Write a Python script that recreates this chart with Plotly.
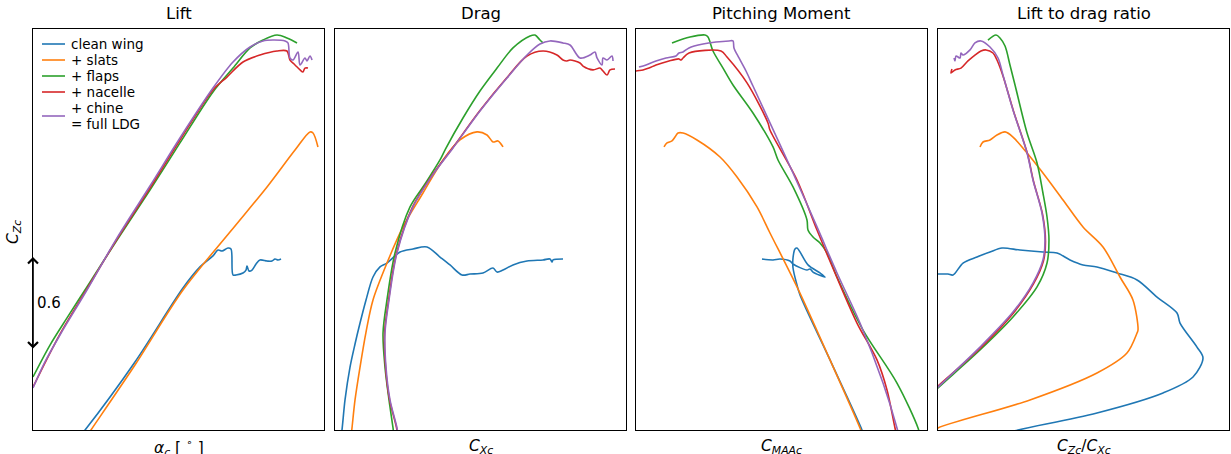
import plotly.graph_objects as go

SERIES = ["clean wing", "+ slats", "+ flaps", "+ nacelle", "+ chine<br>= full LDG"]
COLORS = ["#1f77b4", "#ff7f0e", "#2ca02c", "#d62728", "#9467bd"]
TITLES = ["Lift", "Drag", "Pitching Moment", "Lift to drag ratio"]

# ---------------- Lift: alpha_c [deg] vs C_Zc ----------------
lift_a_clean = [-1.80, -1.35, 3.11, 7.40, 8.92, 10.08, 10.53, 10.89, 11.42, 11.69, 11.87, 12.14, 12.76,
                13.03, 13.12, 13.30, 13.57, 13.93, 14.28, 14.91, 15.35, 15.62, 15.89, 16.16]
lift_cz_clean = [-0.039, 0.0, 0.439, 0.916, 1.052, 1.123, 1.161, 1.155, 1.174, 1.168, 1.000, 1.000, 1.013,
                 1.032, 1.058, 1.026, 1.032, 1.071, 1.097, 1.090, 1.090, 1.103, 1.097, 1.103]
lift_a_slats = [-1.18, -0.82, 3.11, 7.40, 11.60, 14.91, 17.41, 18.75, 19.02, 19.46]
lift_cz_slats = [-0.039, 0.0, 0.419, 0.903, 1.277, 1.568, 1.806, 1.923, 1.916, 1.826]
lift_a_flaps = [-6.0, -4.48, -2.96, -1.18, 1.51, 4.45, 7.13, 10.08, 11.87, 13.39, 14.55, 15.80, 16.69, 17.59]
lift_cz_flaps = [0.342, 0.548, 0.723, 0.923, 1.226, 1.548, 1.852, 2.181, 2.335, 2.465, 2.516, 2.548, 2.529, 2.497]
lift_a_nacelle = [-6.0, -3.59, -1.18, 1.51, 4.45, 7.13, 10.08, 11.33, 12.76, 14.28, 15.80, 16.69, 16.96,
                  17.41, 17.86, 18.12, 18.30, 18.57]
lift_cz_nacelle = [0.277, 0.619, 0.910, 1.232, 1.561, 1.871, 2.194, 2.277, 2.374, 2.419, 2.445, 2.445, 2.387,
                   2.355, 2.323, 2.310, 2.335, 2.335]
lift_a_full = [-6.0, -4.93, -3.59, -1.18, 1.51, 4.45, 7.13, 10.08, 11.87, 13.39, 14.55, 15.44, 16.52, 16.78,
               16.96, 17.23, 17.68, 17.86, 18.30, 18.48, 18.75, 18.93]
lift_cz_full = [0.271, 0.439, 0.613, 0.903, 1.239, 1.574, 1.884, 2.206, 2.374, 2.471, 2.510, 2.516, 2.510, 2.497,
                2.400, 2.387, 2.439, 2.355, 2.400, 2.381, 2.413, 2.387]

# ---------------- Drag: C_Xc vs C_Zc ----------------
drag_cx_clean = [0.0103, 0.0120, 0.0172, 0.0258, 0.0344, 0.0430, 0.0533, 0.0653, 0.0773, 0.0893, 0.1117,
                 0.1340, 0.1581, 0.1804, 0.1976, 0.2182, 0.2320, 0.2543, 0.2715, 0.2784, 0.2887, 0.3058,
                 0.3299, 0.3574, 0.3694, 0.3729, 0.3746, 0.3918]
drag_cz_clean = [-0.039, 0.0, 0.194, 0.406, 0.555, 0.690, 0.839, 0.987, 1.052, 1.077, 1.148, 1.168, 1.181,
                 1.116, 1.065, 1.000, 1.006, 1.013, 1.045, 1.019, 1.032, 1.065, 1.090, 1.097, 1.103, 1.084,
                 1.097, 1.103]
drag_cx_slats = [0.0275, 0.0292, 0.0344, 0.0430, 0.0533, 0.0653, 0.0893, 0.1168, 0.1512, 0.1856, 0.2148,
                 0.2440, 0.2612, 0.2715, 0.2801, 0.2887]
drag_cz_slats = [-0.039, 0.013, 0.194, 0.406, 0.632, 0.839, 1.077, 1.310, 1.529, 1.742, 1.871, 1.923, 1.903,
                 1.858, 1.865, 1.826]
drag_cx_flaps = [0.1014, 0.0997, 0.0928, 0.0859, 0.0825, 0.0893, 0.1031, 0.1289, 0.1546, 0.1804, 0.1907,
                 0.2199, 0.2491, 0.2784, 0.3058, 0.3351, 0.3436, 0.3522, 0.3574]
drag_cz_flaps = [-0.039, 0.013, 0.194, 0.406, 0.626, 0.839, 1.142, 1.439, 1.587, 1.742, 1.819, 2.013, 2.187,
                 2.335, 2.465, 2.542, 2.548, 2.516, 2.497]
drag_cx_nacelle = [0.1075, 0.1058, 0.0938, 0.0869, 0.0852, 0.0921, 0.1058, 0.1333, 0.1660, 0.2020, 0.2484,
                   0.2948, 0.3299, 0.3574, 0.3814, 0.3918, 0.3986, 0.4038, 0.4210, 0.4261, 0.4433, 0.4553,
                   0.4605, 0.4674, 0.4725, 0.4811]
drag_cz_nacelle = [-0.039, 0.013, 0.194, 0.406, 0.626, 0.839, 1.142, 1.439, 1.639, 1.819, 2.058, 2.271, 2.413,
                   2.445, 2.419, 2.387, 2.381, 2.387, 2.368, 2.348, 2.323, 2.335, 2.316, 2.290, 2.323, 2.329]
drag_cx_full = [0.1082, 0.1065, 0.0945, 0.0876, 0.0859, 0.0928, 0.1065, 0.1340, 0.1667, 0.2027, 0.2491,
                0.2955, 0.3299, 0.3522, 0.3694, 0.3918, 0.4038, 0.4210, 0.4381, 0.4467, 0.4502, 0.4588,
                0.4605, 0.4674, 0.4759, 0.4777]
drag_cz_full = [-0.039, 0.013, 0.194, 0.406, 0.626, 0.839, 1.142, 1.439, 1.639, 1.819, 2.058, 2.271, 2.419,
                2.490, 2.510, 2.497, 2.484, 2.400, 2.419, 2.439, 2.400, 2.355, 2.400, 2.387, 2.413, 2.381]

# ---------------- Pitching moment: C_MAAc vs C_Zc ----------------
pm_cm_clean = [-0.0516, -0.0564, -0.1333, -0.2055, -0.2127, -0.2223, -0.2223, -0.2175, -0.2127, -0.1863,
               -0.1574, -0.1454, -0.1742, -0.1814, -0.1887, -0.2223, -0.2296, -0.2536, -0.2704, -0.2969]
pm_cz_clean = [-0.039, 0.0, 0.452, 0.871, 0.935, 1.045, 1.110, 1.168, 1.174, 1.065,
               1.013, 0.987, 1.019, 1.039, 1.032, 1.071, 1.090, 1.103, 1.097, 1.103]
pm_cm_slats = [-0.0539, -0.0612, -0.1333, -0.2127, -0.2777, -0.3089, -0.3570, -0.3979, -0.4533, -0.4869,
               -0.4990, -0.5062, -0.5134, -0.5254, -0.5326]
pm_cz_slats = [-0.039, 0.013, 0.452, 0.923, 1.271, 1.439, 1.632, 1.761, 1.871, 1.916,
               1.916, 1.890, 1.865, 1.852, 1.826]
pm_cm_flaps = [0.0832, 0.0784, 0.0278, -0.0539, -0.1165, -0.1405, -0.1574, -0.1742, -0.1863, -0.1887,
               -0.2223, -0.2584, -0.2704, -0.3186, -0.3667, -0.3907, -0.4148, -0.4268, -0.4340, -0.4701,
               -0.5134]
pm_cz_flaps = [-0.039, 0.013, 0.303, 0.645, 0.987, 1.142, 1.206, 1.245, 1.290, 1.355,
               1.568, 1.742, 1.826, 2.045, 2.226, 2.335, 2.445, 2.535, 2.548, 2.535,
               2.497]
pm_cm_nacelle = [0.0278, 0.0230, 0.0038, -0.0203, -0.0684, -0.1213, -0.1646, -0.2127, -0.2777, -0.2825,
                 -0.3330, -0.3811, -0.3955, -0.4725, -0.4869, -0.4918, -0.4966, -0.5206, -0.5519, -0.5687,
                 -0.5832, -0.6000, -0.6048]
pm_cz_nacelle = [-0.039, 0.013, 0.258, 0.452, 0.690, 1.013, 1.290, 1.613, 1.935, 1.981,
                 2.239, 2.406, 2.445, 2.432, 2.400, 2.387, 2.394, 2.381, 2.355, 2.335,
                 2.323, 2.316, 2.310]
pm_cm_full = [0.0326, 0.0278, -0.0058, -0.0612, -0.1165, -0.1646, -0.2223, -0.2777, -0.3186, -0.3354,
              -0.3522, -0.3643, -0.3667, -0.3763, -0.4076, -0.4388, -0.4725, -0.4869, -0.4966, -0.5038,
              -0.5278, -0.5519, -0.5759, -0.5928]
pm_cz_full = [-0.039, 0.013, 0.303, 0.690, 1.013, 1.310, 1.658, 1.981, 2.219, 2.316,
              2.400, 2.465, 2.510, 2.510, 2.503, 2.490, 2.465, 2.439, 2.432, 2.413,
              2.400, 2.381, 2.355, 2.342]

# ---------------- Lift to drag ratio: C_Zc/C_Xc vs C_Zc ----------------
ld_clean = [5.36, 8.25, 16.39, 23.20, 26.29, 27.32, 26.70, 24.95, 24.64, 22.58, 20.52, 18.45, 16.39, 14.95,
            13.61, 12.27, 10.82, 8.45, 6.60, 5.36, 4.02, 2.58, 1.55, 1.03, 0.0, -0.21]
ld_cz_clean = [-0.045, 0.0, 0.110, 0.239, 0.342, 0.465, 0.535, 0.690, 0.755, 0.858, 0.968, 1.013, 1.052, 1.065,
               1.097, 1.142, 1.148, 1.161, 1.174, 1.148, 1.116, 1.077, 1.000, 1.006, 1.006, 1.006]
ld_slats = [-0.41, 0.0, 9.48, 16.39, 19.48, 20.52, 20.62, 20.10, 18.76, 17.01, 14.95, 12.89, 10.82, 9.18,
            7.73, 6.91, 6.08, 5.36, 4.64, 4.33]
ld_cz_slats = [-0.006, 0.013, 0.194, 0.368, 0.497, 0.626, 0.645, 0.839, 0.987, 1.181, 1.310, 1.484, 1.658,
               1.787, 1.890, 1.923, 1.903, 1.871, 1.858, 1.826]
ld_flaps = [-0.41, 0.0, 4.33, 7.73, 10.21, 11.24, 11.44, 11.24, 10.82, 10.21, 9.18, 7.94, 7.42, 6.91, 6.39,
            5.98, 5.15]
ld_cz_flaps = [0.245, 0.271, 0.516, 0.729, 0.923, 1.077, 1.226, 1.374, 1.529, 1.723, 1.916, 2.226, 2.355,
               2.477, 2.529, 2.548, 2.516]
ld_nacelle = [-0.41, 0.0, 4.38, 7.78, 9.84, 10.87, 11.08, 10.77, 9.84, 9.23, 7.78, 6.70, 6.08, 5.67, 4.95,
              4.43, 3.81, 3.09, 2.37, 1.75, 1.34, 1.44]
ld_cz_nacelle = [0.258, 0.284, 0.529, 0.755, 0.942, 1.090, 1.219, 1.394, 1.606, 1.781, 2.058, 2.284, 2.387,
                 2.432, 2.452, 2.445, 2.419, 2.381, 2.335, 2.323, 2.303, 2.329]
ld_full = [-0.41, 0.0, 4.33, 7.73, 9.79, 10.82, 11.03, 10.72, 9.79, 9.18, 7.73, 6.70, 6.19, 5.36, 4.43,
           3.81, 3.30, 2.58, 2.37, 2.27, 1.86, 1.75, 1.65]
ld_cz_full = [0.252, 0.277, 0.535, 0.761, 0.948, 1.097, 1.226, 1.400, 1.613, 1.787, 2.065, 2.290, 2.400,
              2.471, 2.510, 2.497, 2.452, 2.419, 2.432, 2.400, 2.413, 2.381, 2.400]

panels = [
    [(lift_a_clean, lift_cz_clean), (lift_a_slats, lift_cz_slats), (lift_a_flaps, lift_cz_flaps),
     (lift_a_nacelle, lift_cz_nacelle), (lift_a_full, lift_cz_full)],
    [(drag_cx_clean, drag_cz_clean), (drag_cx_slats, drag_cz_slats), (drag_cx_flaps, drag_cz_flaps),
     (drag_cx_nacelle, drag_cz_nacelle), (drag_cx_full, drag_cz_full)],
    [(pm_cm_clean, pm_cz_clean), (pm_cm_slats, pm_cz_slats), (pm_cm_flaps, pm_cz_flaps),
     (pm_cm_nacelle, pm_cz_nacelle), (pm_cm_full, pm_cz_full)],
    [(ld_clean, ld_cz_clean), (ld_slats, ld_cz_slats), (ld_flaps, ld_cz_flaps),
     (ld_nacelle, ld_cz_nacelle), (ld_full, ld_cz_full)],
]

X_RANGES = [[-6, 20], [0, 0.5], [-0.6, 0.1], [0, 30]]
CZ_RANGE = [0, 2.587]
X_TITLES = ["<i>α</i><sub><i>c</i></sub> [ <sup>∘</sup> ]",
            "<i>C</i><sub><i>Xc</i></sub>",
            "<i>C</i><sub><i>MAAc</i></sub>",
            "<i>C</i><sub><i>Zc</i></sub>/<i>C</i><sub><i>Xc</i></sub>"]

# page geometry (pixels)
W, H = 1231, 454
ML, MR, MT, MB = 33, 2, 29, 24
PLOT_W, PLOT_H = W - ML - MR, H - MT - MB
PANEL_LEFT = [33, 335, 636, 938]
PANEL_W = 291


def paper_x(px):
    return (px - ML) / PLOT_W


def paper_y(py):
    return (H - MB - py) / PLOT_H


DOMAINS = [[paper_x(l), paper_x(l + PANEL_W)] for l in PANEL_LEFT]

FONT = "DejaVu Sans"
fig = go.Figure()

for p, series in enumerate(panels):
    ax = "" if p == 0 else str(p + 1)
    for s, (xs, ys) in enumerate(series):
        fig.add_trace(go.Scatter(
            x=xs, y=ys, mode="lines", name=SERIES[s].replace("<br>", " "),
            line=dict(color=COLORS[s], width=1.6, shape="spline", smoothing=0.9),
            xaxis="x" + ax, yaxis="y" + ax, showlegend=False,
        ))

axis_style = dict(showticklabels=False, ticks="", showgrid=False, zeroline=False,
                  showline=True, mirror=True, linecolor="black", linewidth=1)
layout = {}
for p in range(4):
    ax = "" if p == 0 else str(p + 1)
    layout["xaxis" + ax] = dict(domain=DOMAINS[p], range=X_RANGES[p], anchor="y" + ax, **axis_style)
    layout["yaxis" + ax] = dict(domain=[0, 1], range=CZ_RANGE, anchor="x" + ax, **axis_style)

annotations = []
shapes = []
for p in range(4):
    cx = (DOMAINS[p][0] + DOMAINS[p][1]) / 2
    annotations.append(dict(text=TITLES[p], xref="paper", yref="paper", x=cx, y=1,
                            xanchor="center", yanchor="bottom", yshift=4, showarrow=False,
                            font=dict(family=FONT, size=16.5, color="black")))
    annotations.append(dict(text=X_TITLES[p], xref="paper", yref="paper", x=cx, y=0,
                            xanchor="center", yanchor="middle", yshift=-17, showarrow=False,
                            font=dict(family=FONT, size=15.5, color="black")))

# y-axis label
annotations.append(dict(text="<i>C</i><sub><i>Zc</i></sub>", xref="paper", yref="y", x=0, y=1.277,
                        xanchor="center", yanchor="middle", xshift=-19, textangle=-90,
                        showarrow=False, font=dict(family=FONT, size=15.5, color="black")))

# 0.6 scale bar on the C_Zc axis
annotations.append(dict(text="", xref="x", yref="y", x=-6, y=1.116, axref="x", ayref="y",
                        ax=-6, ay=0.516, showarrow=True, arrowside="end+start", arrowhead=4,
                        startarrowhead=4, arrowsize=1.2, startarrowsize=1.2, arrowwidth=1.6,
                        arrowcolor="black", standoff=0, startstandoff=0))
annotations.append(dict(text="0.6", xref="x", yref="y", x=-6, y=0.819, xanchor="left", yanchor="middle",
                        xshift=2, showarrow=False, font=dict(family=FONT, size=15, color="black")))

# legend in the upper-left corner of the lift panel
LEG_LINE = (42, 65)
LEG_TEXT_X = 69
LEG_ROW_Y = [44, 60, 76, 92, 116]
LEG_STEP = 15.5
for s, label in enumerate(SERIES):
    yc = LEG_ROW_Y[s]
    shapes.append(dict(type="line", xref="paper", yref="paper",
                       x0=paper_x(LEG_LINE[0]), x1=paper_x(LEG_LINE[1]),
                       y0=paper_y(yc), y1=paper_y(yc),
                       line=dict(color=COLORS[s], width=1.6)))
    parts = label.split("<br>")
    first = yc - (len(parts) - 1) * LEG_STEP / 2
    for k, part in enumerate(parts):
        annotations.append(dict(text=part, xref="paper", yref="paper",
                                x=paper_x(LEG_TEXT_X), y=paper_y(first + k * LEG_STEP),
                                xanchor="left", yanchor="middle", showarrow=False,
                                font=dict(family=FONT, size=13.5, color="black")))

fig.update_layout(
    **layout,
    annotations=annotations,
    shapes=shapes,
    width=W, height=H,
    margin=dict(l=ML, r=MR, t=MT, b=MB),
    paper_bgcolor="white", plot_bgcolor="white",
    font=dict(family=FONT, size=13, color="black"),
    showlegend=False,
)

fig.write_html("out.html")
